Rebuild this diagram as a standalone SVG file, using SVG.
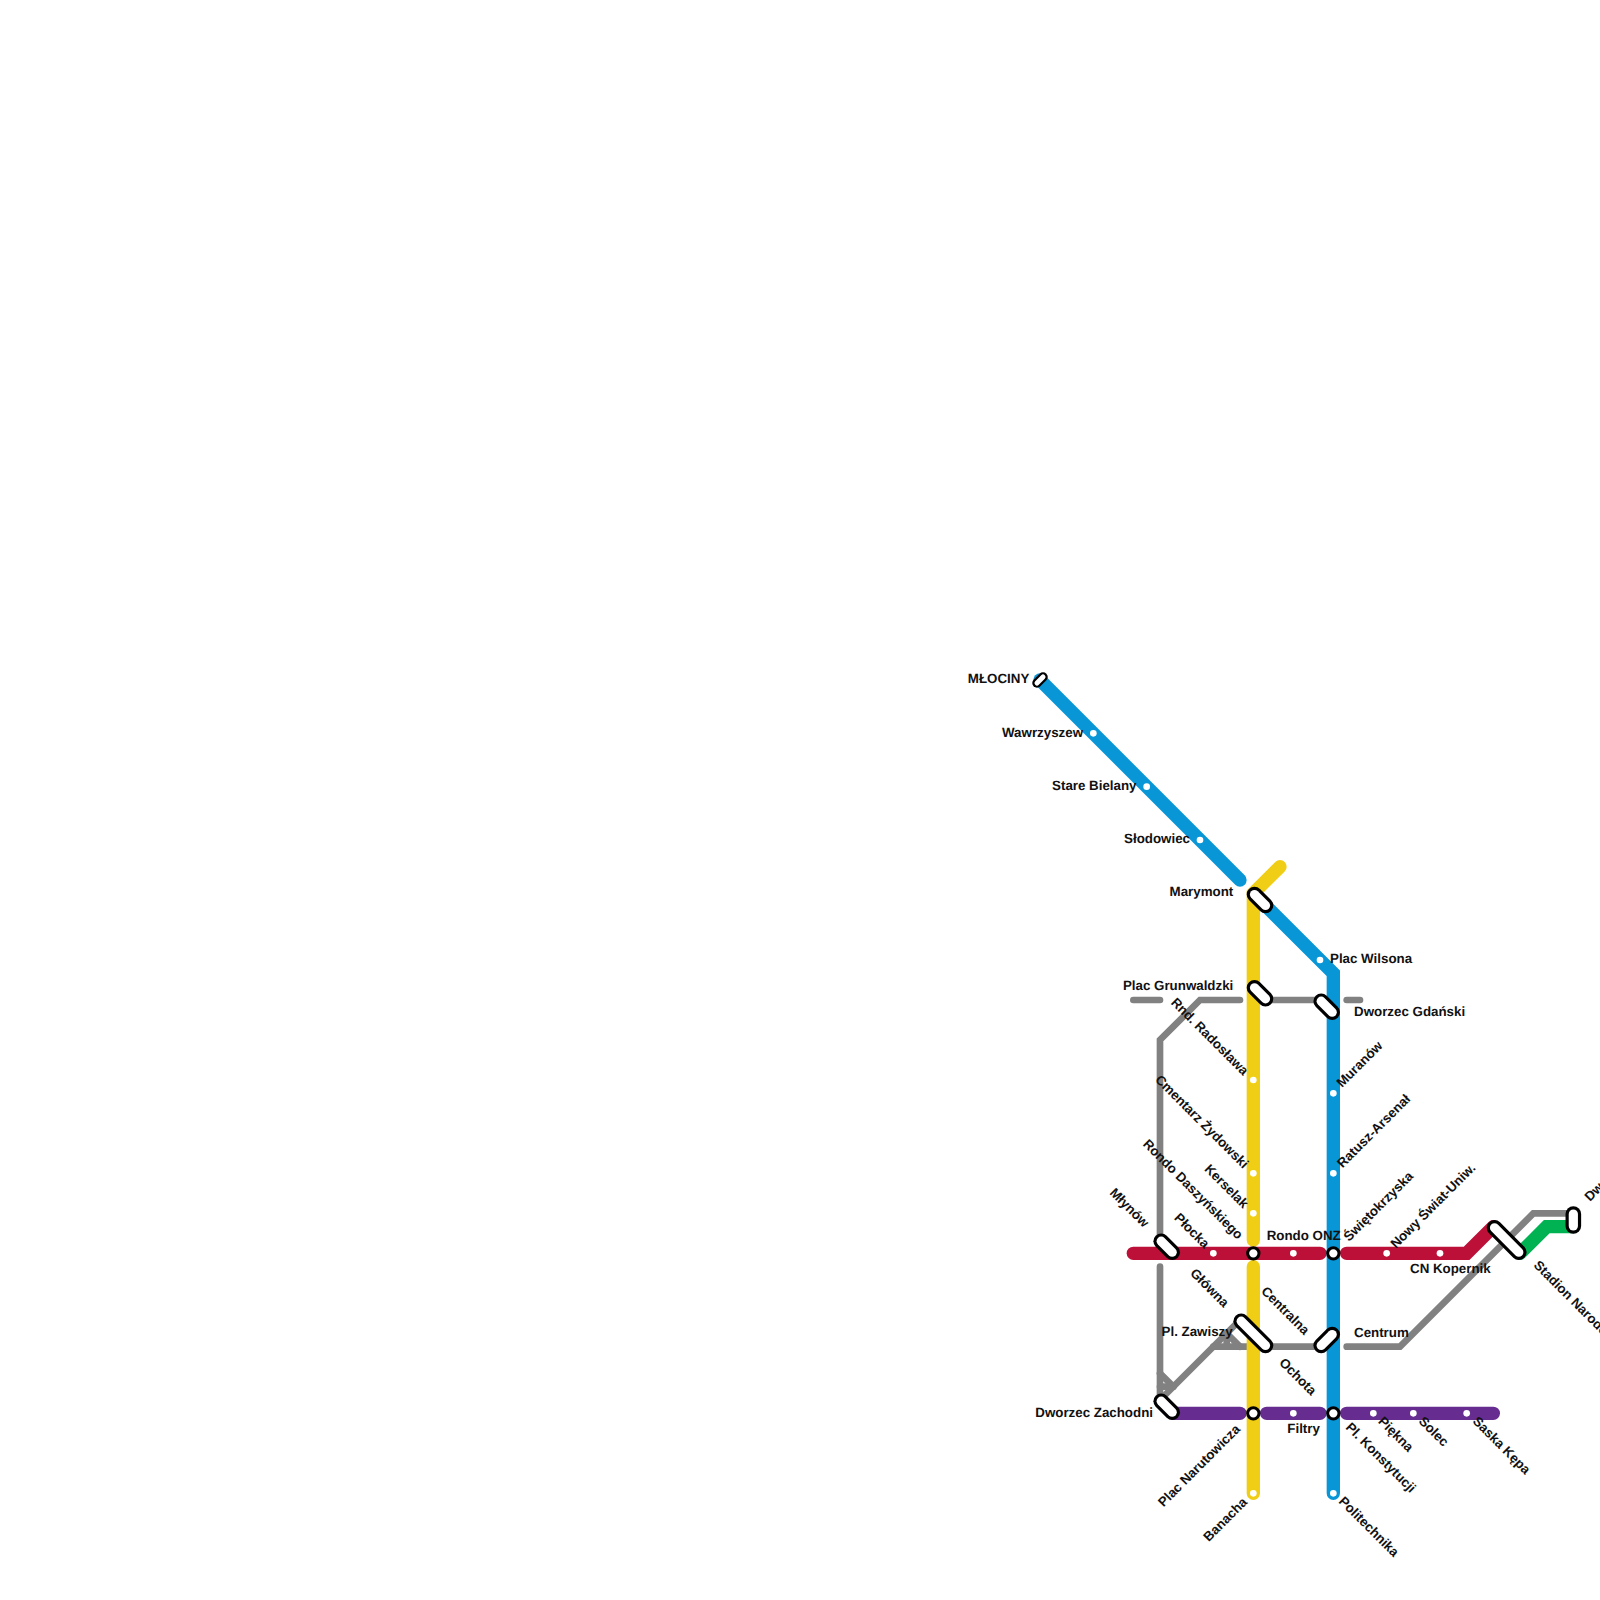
<svg xmlns="http://www.w3.org/2000/svg" width="1600" height="1600" viewBox="0 0 1600 1600">
<style>
.l{fill:none;stroke-linecap:round;stroke-linejoin:miter}
.b{stroke:#0896d7;stroke-width:13.33}
.y{stroke:#f0ce15;stroke-width:13.33}
.r{stroke:#bd1038;stroke-width:13.33}
.p{stroke:#662c90;stroke-width:13.33}
.v{stroke:#00b251;stroke-width:13.33}
.g{stroke:#818181;stroke-width:6.67}
.po{fill:none;stroke:#000;stroke-width:15.6;stroke-linecap:round}
.pi{fill:none;stroke:#fff;stroke-width:9.2;stroke-linecap:round}
.c{fill:#fff;stroke:#000;stroke-width:3}
.d{fill:#fff}
text{font-family:"Liberation Sans",Arial,sans-serif;font-size:13.33px;font-weight:700;fill:#111;text-rendering:geometricPrecision}
.e{text-anchor:end}
</style>
<rect width="1600" height="1600" fill="#fff"/>
<g id="connectors">
<polyline class="l g" points="1133.33,1000 1160,1000"/>
<polyline class="l g" points="1240,1000 1200,1000 1160,1040 1160,1240"/>
<polyline class="l g" points="1266.67,1000 1320,1000"/>
<polyline class="l g" points="1346.67,1000 1360,1000"/>
<polyline class="l g" points="1160,1266.67 1160,1400"/>
<polyline class="l g" points="1160,1373.33 1173.33,1386.67"/>
<polyline class="l g" points="1160,1386.67 1173.33,1386.67"/>
<polyline class="l g" points="1160,1400 1240,1320"/>
<polyline class="l g" points="1226.67,1333.33 1240,1346.67"/>
<polyline class="l g" points="1226.67,1333.33 1226.67,1346.67"/>
<polyline class="l g" points="1213.33,1346.67 1320,1346.67"/>
<polyline class="l g" points="1346.67,1346.67 1400,1346.67 1533.33,1213.33 1573.33,1213.33"/>
<polyline class="l v" points="1520,1253.33 1546.67,1226.67 1573.33,1226.67"/>
<polyline class="l r" points="1133.33,1253.33 1320,1253.33"/>
<polyline class="l r" points="1346.67,1253.33 1466.67,1253.33 1493.33,1226.67"/>
<polyline class="l p" points="1173.33,1413.33 1240,1413.33"/>
<polyline class="l p" points="1266.67,1413.33 1320,1413.33"/>
<polyline class="l p" points="1346.67,1413.33 1493.33,1413.33"/>
<polyline class="l y" points="1280,866.67 1253.33,893.33 1253.33,1240"/>
<polyline class="l y" points="1253.33,1266.67 1253.33,1493.33"/>
<polyline class="l b" points="1040,680 1240,880"/>
<polyline class="l b" points="1266.67,906.67 1333.33,973.33 1333.33,1493.33"/>
</g>
<g id="n-mlociny"><path class="po" style="stroke-width:9.5" d="M1037,683L1043,677"/><path class="pi" style="stroke-width:5" d="M1037,683L1043,677"/><text class="e" x="1029.3" y="683">MŁOCINY</text></g>
<g id="n-wawrzyszew"><circle class="d" cx="1093.33" cy="733.33" r="3.33"/><text class="e" x="1083" y="736.5">Wawrzyszew</text></g>
<g id="n-stare-bielany"><circle class="d" cx="1146.67" cy="786.67" r="3.33"/><text class="e" x="1136.5" y="790">Stare Bielany</text></g>
<g id="n-slodowiec"><circle class="d" cx="1200" cy="840" r="3.33"/><text class="e" x="1190" y="843">Słodowiec</text></g>
<g id="n-marymont"><path class="po" d="M1254.5,894.5L1265.5,905.5"/><path class="pi" d="M1254.5,894.5L1265.5,905.5"/><text class="e" x="1233.3" y="896">Marymont</text></g>
<g id="n-plac-wilsona"><circle class="d" cx="1320" cy="960" r="3.33"/><text x="1330" y="963">Plac Wilsona</text></g>
<g id="n-plac-grunwaldzki"><path class="po" d="M1254.5,987.8L1265.5,998.8"/><path class="pi" d="M1254.5,987.8L1265.5,998.8"/><text class="e" x="1233.3" y="990">Plac Grunwaldzki</text></g>
<g id="n-dworzec-gdanski"><path class="po" d="M1321.2,1001.2L1332.2,1012.2"/><path class="pi" d="M1321.2,1001.2L1332.2,1012.2"/><text x="1354" y="1016">Dworzec Gdański</text></g>
<g id="n-radoslawa"><circle class="d" cx="1253.33" cy="1080" r="3.33"/><text class="e" transform="translate(1243,1076) rotate(45)">Rnd. Radosława</text></g>
<g id="n-muranow"><circle class="d" cx="1333.33" cy="1093.33" r="3.33"/><text transform="translate(1342,1088) rotate(-45)">Muranów</text></g>
<g id="n-cmentarz"><circle class="d" cx="1253.33" cy="1173.33" r="3.33"/><text class="e" transform="translate(1243,1169) rotate(45)">Cmentarz Żydowski</text></g>
<g id="n-ratusz"><circle class="d" cx="1333.33" cy="1173.33" r="3.33"/><text transform="translate(1342.5,1168.5) rotate(-45)">Ratusz-Arsenał</text></g>
<g id="n-kerselak"><circle class="d" cx="1253.33" cy="1213.33" r="3.33"/><text class="e" transform="translate(1243,1209) rotate(45)">Kerselak</text></g>
<g id="n-mlynow"><path class="po" d="M1161.2,1241.2L1172.2,1252.2"/><path class="pi" d="M1161.2,1241.2L1172.2,1252.2"/><text class="e" transform="translate(1143.5,1228) rotate(45)">Młynów</text></g>
<g id="n-plocka"><circle class="d" cx="1213.33" cy="1253.33" r="3.33"/><text class="e" transform="translate(1204,1249) rotate(45)">Płocka</text></g>
<g id="n-daszynskiego"><circle class="c" cx="1253.33" cy="1253.33" r="5.67"/><text class="e" transform="translate(1237.5,1240) rotate(45)">Rondo Daszyńskiego</text></g>
<g id="n-rondo-onz-dot"><circle class="d" cx="1293.33" cy="1253.33" r="3.33"/><text x="1266.7" y="1240">Rondo ONZ</text></g>
<g id="n-swietokrzyska"><circle class="c" cx="1333.33" cy="1253.33" r="5.67"/><text transform="translate(1349,1242) rotate(-45)">Świętokrzyska</text></g>
<g id="n-nowy-swiat"><circle class="d" cx="1386.67" cy="1253.33" r="3.33"/><text transform="translate(1396,1249) rotate(-45)">Nowy Świat-Uniw.</text></g>
<g id="n-cn-kopernik"><circle class="d" cx="1440" cy="1253.33" r="3.33"/><text x="1410" y="1273">CN Kopernik</text></g>
<g id="n-stadion"><path class="po" d="M1494.5,1227.8L1518.8,1252.2"/><path class="pi" d="M1494.5,1227.8L1518.8,1252.2"/><text transform="translate(1533,1266) rotate(45)">Stadion Narodowy</text></g>
<g id="n-dw-wilenski"><path class="po" d="M1573.33,1214L1573.33,1226"/><path class="pi" d="M1573.33,1214L1573.33,1226"/><text transform="translate(1590,1202) rotate(-45)">Dworzec Wileński</text></g>
<g id="n-glowna"><text class="e" transform="translate(1223.5,1308) rotate(45)">Główna</text></g>
<g id="n-centralna"><text transform="translate(1260.5,1292) rotate(45)">Centralna</text></g>
<g id="n-pl-zawiszy"><path class="po" d="M1241.2,1321.2L1265.5,1345.5"/><path class="pi" d="M1241.2,1321.2L1265.5,1345.5"/><text class="e" x="1232.7" y="1336">Pl. Zawiszy</text></g>
<g id="n-centrum"><path class="po" d="M1321.2,1345.5L1332.2,1334.5"/><path class="pi" d="M1321.2,1345.5L1332.2,1334.5"/><text x="1354" y="1336.5">Centrum</text></g>
<g id="n-ochota"><text transform="translate(1278.5,1363.5) rotate(45)">Ochota</text></g>
<g id="n-dworzec-zachodni"><path class="po" d="M1161.2,1401.2L1172.2,1412.2"/><path class="pi" d="M1161.2,1401.2L1172.2,1412.2"/><text class="e" x="1153" y="1417">Dworzec Zachodni</text></g>
<g id="n-narutowicza"><circle class="c" cx="1253.33" cy="1413.33" r="5.67"/><text class="e" transform="translate(1241,1430) rotate(-45)">Plac Narutowicza</text></g>
<g id="n-filtry"><circle class="d" cx="1293.33" cy="1413.33" r="3.33"/><text x="1287.3" y="1433">Filtry</text></g>
<g id="n-konstytucji"><circle class="c" cx="1333.33" cy="1413.33" r="5.67"/><text transform="translate(1345,1428) rotate(45)">Pl. Konstytucji</text></g>
<g id="n-piekna"><circle class="d" cx="1373.33" cy="1413.33" r="3.33"/><text transform="translate(1377.5,1422) rotate(45)">Piękna</text></g>
<g id="n-solec"><circle class="d" cx="1413.33" cy="1413.33" r="3.33"/><text transform="translate(1418,1422) rotate(45)">Solec</text></g>
<g id="n-saska-kepa"><circle class="d" cx="1466.67" cy="1413.33" r="3.33"/><text transform="translate(1472,1422) rotate(45)">Saska Kępa</text></g>
<g id="n-banacha"><circle class="d" cx="1253.33" cy="1493.33" r="3.33"/><text class="e" transform="translate(1248,1503) rotate(-45)">Banacha</text></g>
<g id="n-politechnika"><circle class="d" cx="1333.33" cy="1493.33" r="3.33"/><text transform="translate(1338,1502) rotate(45)">Politechnika</text></g>
</svg>
